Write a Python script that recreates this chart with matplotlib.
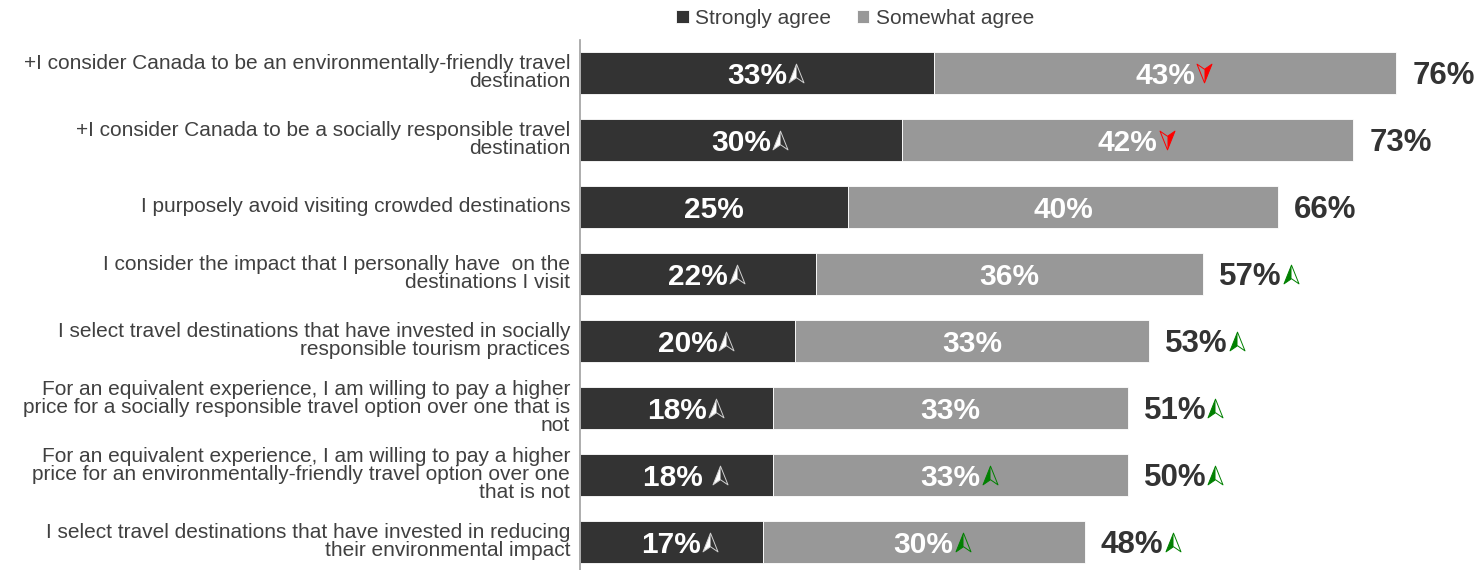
import matplotlib.pyplot as plt
from matplotlib.path import Path

plt.rcParams['font.family'] = ['Liberation Sans', 'DejaVu Sans']

statements = [
    "+I consider Canada to be an environmentally-friendly travel\ndestination",
    "+I consider Canada to be a socially responsible travel\ndestination",
    "I purposely avoid visiting crowded destinations",
    "I consider the impact that I personally have  on the\ndestinations I visit",
    "I select travel destinations that have invested in socially\nresponsible tourism practices",
    "For an equivalent experience, I am willing to pay a higher\nprice for a socially responsible travel option over one that is\nnot",
    "For an equivalent experience, I am willing to pay a higher\nprice for an environmentally-friendly travel option over one\nthat is not",
    "I select travel destinations that have invested in reducing\ntheir environmental impact",
]
strongly = [33, 30, 25, 22, 20, 18, 18, 17]
somewhat = [43, 42, 40, 36, 33, 33, 33, 30]
totals = [76, 73, 66, 57, 53, 51, 50, 48]

# significance arrows: 'up', 'down' or '' for each label
strongly_sig = ['up', 'up', '', 'up', 'up', 'up', 'up', 'up']
somewhat_sig = ['down', 'down', '', '', '', '', 'up', 'up']
total_sig = ['', '', '', 'up', 'up', 'up', 'up', 'up']

dark = '#333333'
grey = '#989898'

# arrowhead: left half solid, whole outline drawn on top
head = [(0, 1), (-0.8, -1), (0, -0.45), (0.8, -1), (0, 1)]
half = [(0, 1), (-0.8, -1), (0, -0.45), (0, 1)]


def flip(pts):
    return [(-x, -y) for x, y in pts]


def draw_arrow(ax, x, y, kind, color, ms=13.5):
    if kind == 'up':
        full_p, half_p = head, half
    else:
        full_p, half_p = flip(head), flip(half)
    edge = '#d0d0d0' if color == 'white' else color
    ax.plot(x, y, marker=Path(half_p, closed=True), ms=ms, color=color,
            markeredgewidth=0, linestyle='none', zorder=5)
    ax.plot(x, y, marker=Path(full_p, closed=True), ms=ms, markerfacecolor='none',
            markeredgecolor=edge, markeredgewidth=0.7, linestyle='none', zorder=5)


fig = plt.figure(figsize=(14.8, 5.7), dpi=100)
ax = fig.add_axes([580 / 1480, 0.0, 900 / 1480, 530 / 570])

ys = list(range(len(statements)))
ax.barh(ys, strongly, height=0.63, color=dark, edgecolor='white', linewidth=0.6,
        label='Strongly agree')
ax.barh(ys, somewhat, left=strongly, height=0.63, color=grey, edgecolor='white',
        linewidth=0.6, label='Somewhat agree')

ax.set_xlim(0, 83.8)
ax.set_ylim(7.42, -0.49)
ax.set_xticks([])
ax.set_yticks([])
for s in ['top', 'right', 'bottom']:
    ax.spines[s].set_visible(False)
ax.spines['left'].set_color('#a0a0a0')
ax.spines['left'].set_linewidth(1.2)

for i, txt in enumerate(statements):
    ax.text(-10 / 10.74, i, txt, ha='right', va='center', fontsize=15,
            color='#404040', linespacing=0.93)

labels = []
for i in ys:
    pad = ' ' if i == 6 else ''
    t1 = ax.text(strongly[i] / 2, i, f"{strongly[i]}%" + pad, ha='center',
                 va='center_baseline', fontsize=21.5, fontweight='bold', color='white')
    t2 = ax.text(strongly[i] + somewhat[i] / 2, i, f"{somewhat[i]}%", ha='center',
                 va='center_baseline', fontsize=21.5, fontweight='bold', color='white')
    end = strongly[i] + somewhat[i]
    t3 = ax.text(end + 1.5, i, f"{totals[i]}%", ha='left', va='center_baseline',
                 fontsize=22.5, fontweight='bold', color=dark)
    labels.append((t1, t2, t3))

fig.canvas.draw()
renderer = fig.canvas.get_renderer()
inv = ax.transData.inverted()
for i in ys:
    t1, t2, t3 = labels[i]
    marks = [(t1, strongly_sig[i], 'white'),
             (t2, somewhat_sig[i], '#ff0000' if somewhat_sig[i] == 'down' else '#008000'),
             (t3, total_sig[i], '#008000')]
    for t, kind, col in marks:
        if not kind:
            continue
        bb = t.get_window_extent(renderer)
        x = inv.transform((bb.x1 + 9, 0))[0]
        draw_arrow(ax, x, i, kind, col)

fig.legend(*ax.get_legend_handles_labels(), loc='center',
           bbox_to_anchor=(855 / 1480, 1 - 18 / 570), ncol=2, frameon=False,
           fontsize=15, handlelength=0.6, handleheight=0.6, handletextpad=0.3,
           columnspacing=1.25, labelcolor='#404040')

fig.savefig('out.png', dpi=100)
